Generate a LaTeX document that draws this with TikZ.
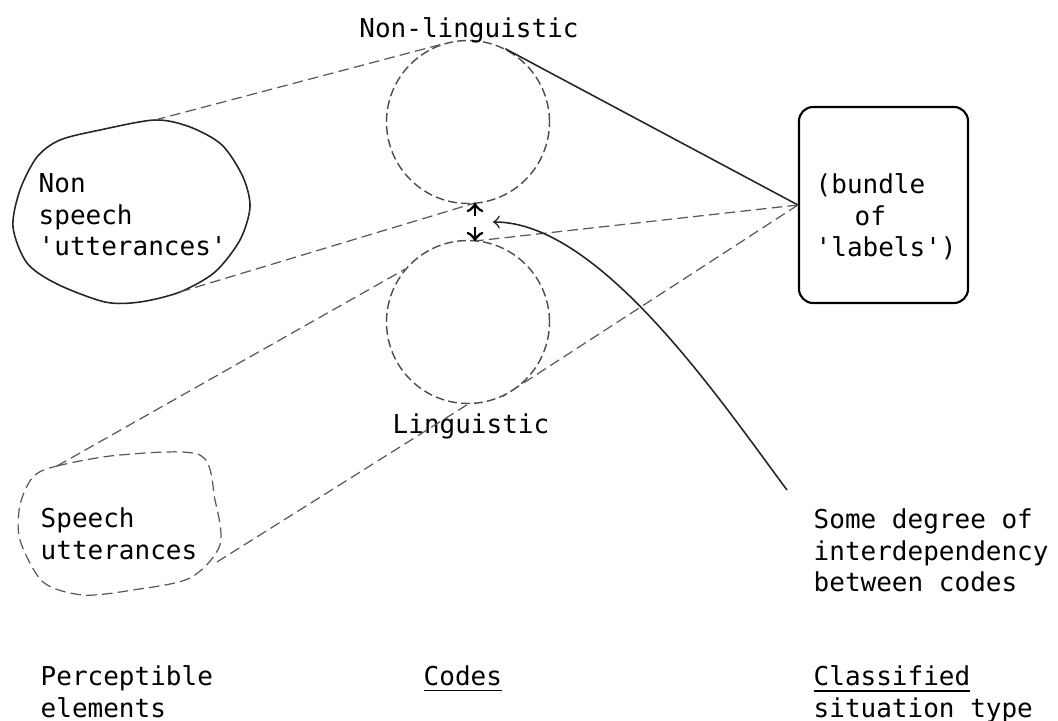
\documentclass[tikz,border=0pt]{standalone}
\usepackage{fontspec}
\setmonofont{DejaVu Sans Mono}

\begin{document}
\begin{tikzpicture}[font=\ttfamily\fontsize{7.4}{9}\selectfont,
  txt/.style={anchor=north west, inner sep=0pt, align=left},
  ring/.style={circle, draw=black!70, line width=0.4pt, dash pattern=on 2.5pt off 1.2pt, minimum size=1.63cm, inner sep=0pt},
  faint/.style={draw=black!65, line width=0.35pt, dash pattern=on 3pt off 1.5pt},
  plain/.style={draw=black!85, line width=0.45pt}]
\useasboundingbox (0, 0) rectangle (10.58, 7.21);
\node[ring] (tc) at (4.68, 5.99){};
\node[ring] (bc) at (4.68, 3.99){};
\node[inner sep=0pt, anchor=north] (nonling) at (4.69, 7.04){Non-linguistic};
\node[inner sep=0pt, anchor=north] (ling) at (4.71, 3.08){Linguistic};
\node[draw, rounded corners=4pt, line width=0.6pt, minimum width=1.69cm, minimum height=1.96cm] (bundle) at (8.835, 5.16){};
\node[txt] (bundletext) at (8.15, 5.48){(bundle\\\hspace*{1.5em}of\\'labels')};
\node[txt] (nonspeech) at (0.38, 5.48){Non\\speech\\'utterances'};
\node[txt] (speech) at (0.40, 2.14){Speech\\utterances};
\node[txt] (percept) at (0.40, 0.56){Perceptible\\elements};
\node[txt] (codes) at (4.23, 0.56){\underline{Codes}};
\node[txt] (degree) at (8.13, 2.13){Some degree of\\interdependency\\between codes};
\node[txt] (classified) at (8.13, 0.56){\underline{Classified}\\situation type};
\coordinate (nstop) at (1.55, 6.01);
\coordinate (nstip) at (1.80, 4.29);
\coordinate (sptop) at (0.57, 2.55);
\coordinate (sptip) at (2.17, 1.59);
\coordinate (hi) at (4.75, 5.18);
\coordinate (lo) at (4.75, 4.80);
\coordinate (gap) at (4.93, 4.99);
\coordinate (tail) at (7.87, 2.31);
\draw[plain] plot[smooth cycle] coordinates {(0.37, 5.64) (0.60, 5.81) (1.00, 5.91) (1.55, 6.01) (1.90, 5.94) (2.22, 5.76) (2.43, 5.44) (2.50, 5.14) (2.40, 4.81) (2.15, 4.49) (1.80, 4.29) (1.40, 4.19) (1.05, 4.19) (0.57, 4.37) (0.27, 4.58) (0.13, 4.94) (0.20, 5.31)};
\draw[faint] plot[smooth cycle] coordinates {(0.33, 2.44) (0.57, 2.55) (1.20, 2.66) (2.00, 2.66) (2.15, 2.21) (2.20, 1.76) (1.90, 1.43) (1.33, 1.31) (0.83, 1.26) (0.43, 1.39) (0.20, 1.81) (0.20, 2.16)};
\draw[faint] (nstop) -- (tc.110);
\draw[faint] (nstip) -- (hi);
\draw[faint] (sptop) -- (bc.140);
\draw[faint] (sptip) -- (bc.south);
\draw[plain] (bundle.west) -- (tc.63);
\draw[faint] (bundle.west) -- (lo);
\draw[faint] (bundle.west) -- (bc.-65);
\draw[<->, dashed, line width=0.8pt] (hi) -- (lo);
\draw[plain, ->] (tail) .. controls (7.20, 3.21) and (6.00, 4.99) .. (gap);
\end{tikzpicture}
\end{document}
